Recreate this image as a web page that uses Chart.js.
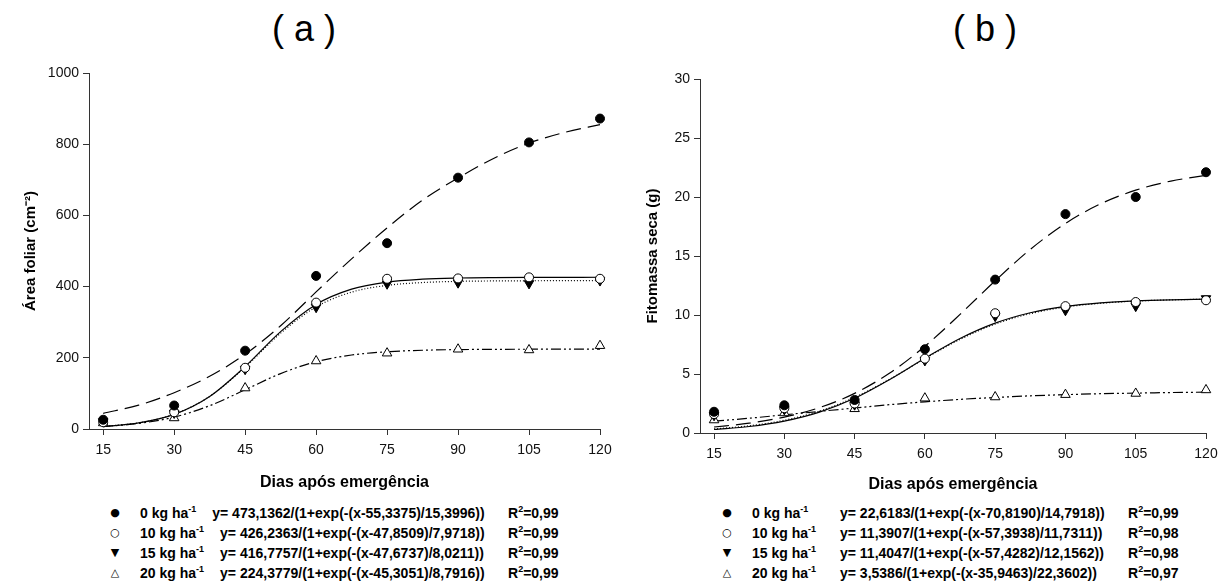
<!DOCTYPE html>
<html lang="pt">
<head>
<meta charset="utf-8">
<title>Área foliar e fitomassa seca</title>
<script src="https://cdn.jsdelivr.net/npm/chart.js@4.4.0/dist/chart.umd.min.js"></script>
<style>
  html, body { margin: 0; padding: 0; background: #fff; width: 1220px; height: 585px; overflow: hidden; }
  body { position: relative; font-family: "Liberation Sans", Arial, sans-serif; color: #000; }
  canvas { position: absolute; top: 0; }
  .panel-title { position: absolute; top: 11px; font-size: 36px; line-height: 36px; transform: translateX(-50%); white-space: pre; }
  .leg-row { position: absolute; left: 0; height: 20px; line-height: 20px; font-size: 14px; font-weight: bold; white-space: nowrap; }
  .leg-row span { position: absolute; top: 0; }
  .leg-row sup { font-size: 9px; line-height: 0; vertical-align: 6px; }
  .mk { font-family: "DejaVu Sans", sans-serif; font-weight: normal; font-size: 11px; width: 14px; text-align: center; }
</style>
</head>
<body>
<div class="panel-title" style="left:304px">( a )</div>
<div class="panel-title" style="left:985px">( b )</div>
<canvas id="chartA" width="620" height="500" style="left:0"></canvas>
<canvas id="chartB" width="620" height="500" style="left:606px"></canvas>
<div id="legendA"></div>
<div id="legendB"></div>
<script>
// dias de avaliação e ticks
const days = [15, 30, 45, 60, 75, 90, 105, 120];
const dayTicks = [15, 30, 45, 60, 75, 90, 105, 120];
const curveDays = [15, 22.5, 30, 37.5, 45, 52.5, 60, 67.5, 75, 82.5, 90, 97.5, 105, 112.5, 120];
const areaTicks = [0, 200, 400, 600, 800, 1000];
const massTicks = [0, 5, 10, 15, 20, 25, 30];

// doses de N
const doses = ["0", "10", "15", "20"];

// (a) área foliar - pontos observados
const areaObs0 = [26, 66, 220, 430, 522, 706, 805, 872];
const areaObs10 = [19, 47, 172, 355, 422, 423, 426, 422];
const areaObs15 = [21, 45, 168, 342, 408, 411, 409, 417];
const areaObs20 = [17, 31, 115, 191, 213, 224, 222, 234];

// (a) curvas ajustadas
const areaFit0 = [44, 67, 102, 148, 210, 290, 385, 478, 565, 643, 705, 760, 803, 833, 855];
const areaFit10 = [6.8, 17.0, 41.0, 91.4, 175.4, 273.6, 350.0, 392.9, 412.6, 420.8, 424.1, 425.4, 425.9, 426.1, 426.2];
const areaFit15 = [7.0, 17.3, 41.5, 91.5, 174.0, 269.2, 343.0, 384.4, 403.4, 411.4, 414.7, 415.9, 416.4, 416.6, 416.7];
const areaFit20 = [6.9, 15.6, 33.4, 65.4, 110.2, 155.7, 188.9, 207.8, 217.0, 221.2, 223.0, 223.8, 224.1, 224.3, 224.3];

// (b) fitomassa seca - pontos observados
const massObs0 = [1.8, 2.35, 2.8, 7.1, 13.0, 18.55, 20.0, 22.1];
const massObs10 = [1.6, 2.1, 2.5, 6.3, 10.15, 10.75, 11.1, 11.25];
const massObs15 = [1.5, 2.0, 2.4, 6.15, 9.9, 10.4, 10.75, 11.4];
const massObs20 = [1.1, 1.7, 2.05, 2.95, 3.05, 3.25, 3.35, 3.65];

// (b) curvas ajustadas
const massFit0 = [0.51, 0.83, 1.35, 2.15, 3.36, 5.08, 7.35, 10.05, 12.9, 15.56, 17.76, 19.42, 20.58, 21.35, 21.83];
const massFit10 = [0.3, 0.55, 1.01, 1.77, 2.94, 4.53, 6.33, 8.01, 9.31, 10.19, 10.73, 11.03, 11.2, 11.29, 11.34];
const massFit15 = [0.34, 0.61, 1.08, 1.85, 3.02, 4.56, 6.3, 7.93, 9.23, 10.11, 10.67, 10.99, 11.18, 11.28, 11.34];
const massFit20 = [1.0, 1.25, 1.54, 1.83, 2.12, 2.4, 2.64, 2.85, 3.01, 3.15, 3.25, 3.33, 3.38, 3.43, 3.46];

// equações da legenda
const eqA = [
  "y= 473,1362/(1+exp(-(x-55,3375)/15,3996))",
  "y= 426,2363/(1+exp(-(x-47,8509)/7,9718))",
  "y= 416,7757/(1+exp(-(x-47,6737)/8,0211))",
  "y= 224,3779/(1+exp(-(x-45,3051)/8,7916))",
];
const r2A = ["0,99", "0,99", "0,99", "0,99"];
const eqB = [
  "y= 22,6183/(1+exp(-(x-70,8190)/14,7918))",
  "y= 11,3907/(1+exp(-(x-57,3938)/11,7311))",
  "y= 11,4047/(1+exp(-(x-57,4282)/12,1562))",
  "y= 3,5386/(1+exp(-(x-35,9463)/22,3602))",
];
const r2B = ["0,99", "0,98", "0,98", "0,97"];

Chart.defaults.font.family = '"Liberation Sans", Arial, sans-serif';
Chart.defaults.color = "#111";

// estilo de cada dose: marcador e tipo de linha
const markers = [
  { pointStyle: "circle", radius: 4.5, fill: "#000", rotation: 0 },
  { pointStyle: "circle", radius: 4.5, fill: "#fff", rotation: 0 },
  { pointStyle: "triangle", radius: 5.5, fill: "#000", rotation: 180 },
  { pointStyle: "triangle", radius: 5.5, fill: "#fff", rotation: 0 },
];
const dashes = [[15, 7], [], [1, 2], [10, 3, 2, 3, 2, 3]];
const symbols = ["●", "○", "▼", "△"];

function pairs(xs, ys) {
  return xs.map((x, i) => ({ x: x, y: ys[i] }));
}

function makeChart(id, obs, fits, yTicks, yTitle, opts) {
  const datasets = [];
  // pontos primeiro para ficarem por cima das linhas
  obs.forEach((serie, i) => {
    datasets.push({
      data: pairs(days, serie),
      showLine: false,
      clip: false,
      pointStyle: markers[i].pointStyle,
      pointRadius: markers[i].radius,
      pointRotation: markers[i].rotation,
      pointBackgroundColor: markers[i].fill,
      pointBorderColor: "#000",
      pointBorderWidth: 1,
    });
  });
  fits.forEach((serie, i) => {
    datasets.push({
      data: pairs(curveDays, serie),
      borderColor: "#000",
      borderWidth: 1.2,
      borderDash: dashes[i],
      pointRadius: 0,
      fill: false,
      clip: false,
      cubicInterpolationMode: "monotone",
    });
  });

  new Chart(document.getElementById(id), {
    type: "line",
    data: { datasets: datasets },
    options: {
      responsive: false,
      animation: false,
      devicePixelRatio: 1,
      layout: { padding: { top: opts.top, right: 20, left: 0, bottom: 0 } },
      plugins: { legend: { display: false }, tooltip: { enabled: false } },
      scales: {
        x: {
          type: "linear",
          min: 12,
          max: 120,
          afterBuildTicks: (s) => { s.ticks = dayTicks.map((v) => ({ value: v })); },
          afterFit: (s) => { s.height = opts.xHeight; },
          grid: { drawOnChartArea: false, drawTicks: true, tickLength: 6, color: "#333" },
          border: { color: "#333", width: 1 },
          ticks: { font: { size: 14 }, padding: 7, maxRotation: 0, autoSkip: false, callback: (v) => String(v) },
          title: {
            display: true,
            text: "Dias após emergência",
            font: { size: 16, weight: "bold" },
            color: "#000",
            padding: { top: 0, bottom: opts.xTitlePad },
          },
        },
        y: {
          min: yTicks[0],
          max: yTicks[yTicks.length - 1],
          afterBuildTicks: (s) => { s.ticks = yTicks.map((v) => ({ value: v })); },
          afterFit: (s) => { s.width = opts.yWidth; },
          grid: { drawOnChartArea: false, drawTicks: true, tickLength: 6, color: "#333" },
          border: { color: "#333", width: 1 },
          ticks: { font: { size: 14 }, padding: 4, callback: (v) => String(v) },
          title: {
            display: true,
            text: yTitle,
            font: { size: 15, weight: "bold" },
            color: "#000",
            padding: { top: opts.yTitlePad, bottom: 0 },
          },
        },
      },
    },
  });
}

makeChart("chartA", [areaObs0, areaObs10, areaObs15, areaObs20],
  [areaFit0, areaFit10, areaFit15, areaFit20], areaTicks, "Área foliar (cm⁻²)",
  { top: 73, xHeight: 71, yWidth: 89, xTitlePad: 8, yTitlePad: 22 });

makeChart("chartB", [massObs0, massObs10, massObs15, massObs20],
  [massFit0, massFit10, massFit15, massFit20], massTicks, "Fitomassa seca (g)",
  { top: 79, xHeight: 67, yWidth: 94, xTitlePad: 6, yTitlePad: 38 });

// legenda com as equações
function buildLegend(el, eqs, r2s, pos) {
  let html = "";
  doses.forEach((d, i) => {
    const top = pos.rowTop + i * 20;
    const eqLeft = pos.eqLeft ? pos.eqLeft : null;
    html += '<div class="leg-row" style="top:' + top + 'px">' +
      '<span class="mk" style="left:' + (pos.mark - 7) + 'px">' + symbols[i] + "</span>" +
      '<span style="left:' + pos.label + 'px">' + d + " kg ha<sup>-1</sup>" +
      (eqLeft ? "" : '<span style="position:static;margin-left:' + pos.gap + 'px">' + eqs[i] + "</span>") +
      "</span>" +
      (eqLeft ? '<span style="left:' + eqLeft + 'px">' + eqs[i] + "</span>" : "") +
      '<span style="left:' + pos.r2 + 'px">R<sup>2</sup>=' + r2s[i] + "</span>" +
      "</div>";
  });
  el.innerHTML = html;
}

buildLegend(document.getElementById("legendA"), eqA, r2A,
  { rowTop: 503, mark: 115, label: 140, gap: 16, r2: 508 });
buildLegend(document.getElementById("legendB"), eqB, r2B,
  { rowTop: 503, mark: 727, label: 752, eqLeft: 840, r2: 1128 });
</script>
</body>
</html>
